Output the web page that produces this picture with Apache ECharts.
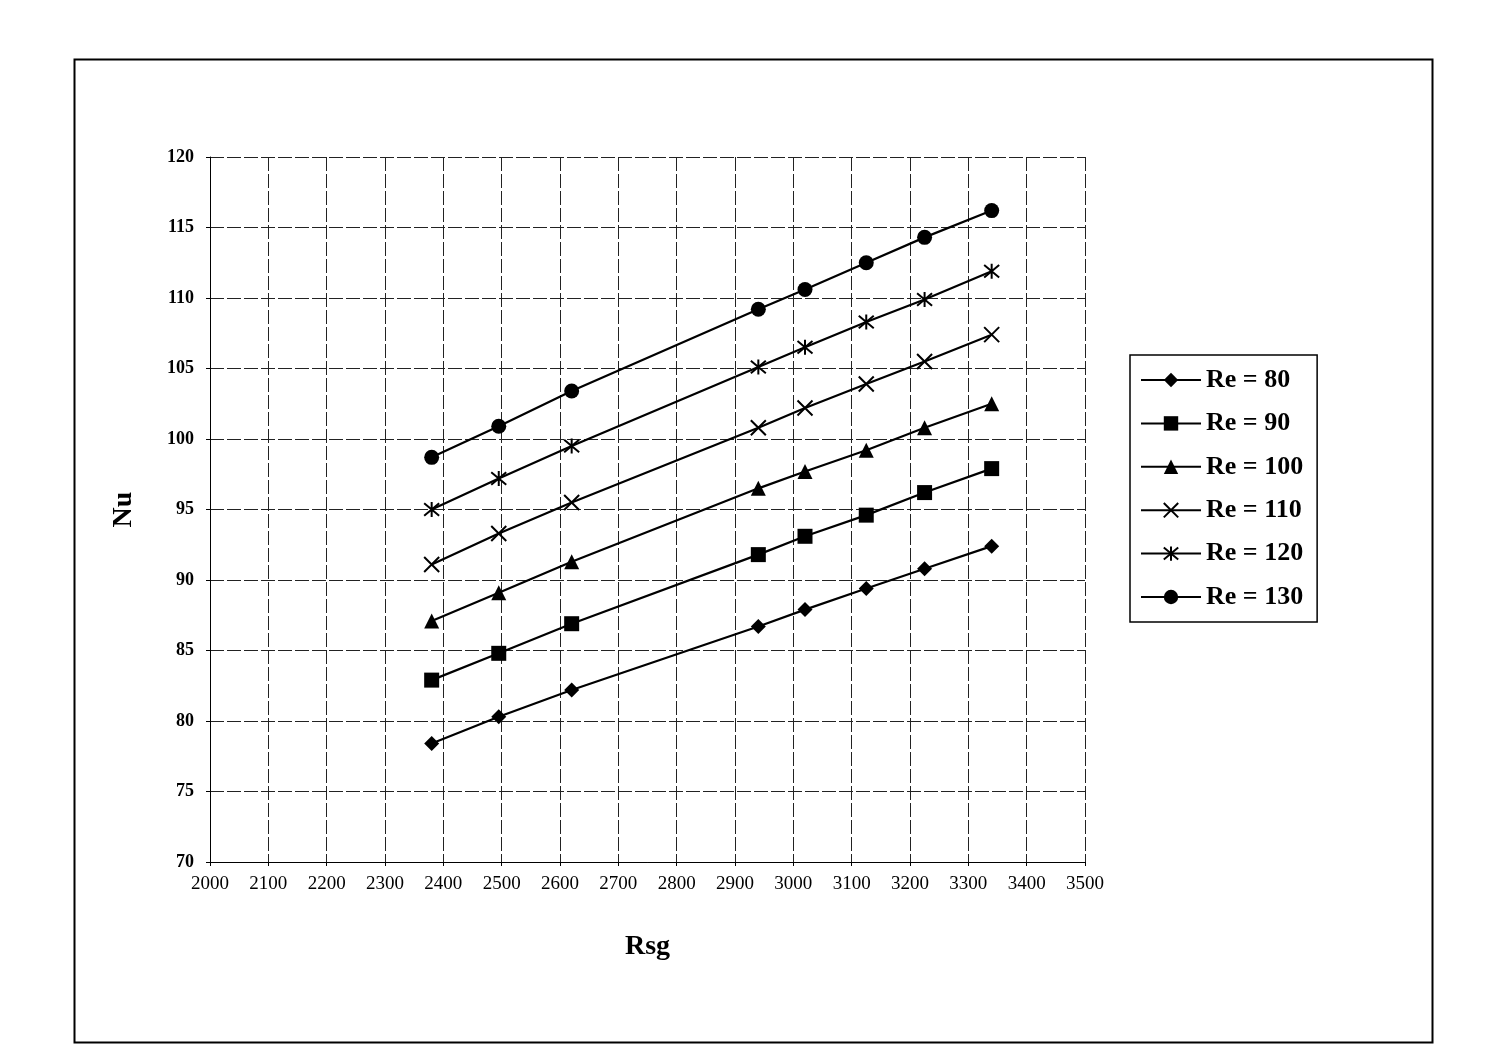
<!DOCTYPE html>
<html>
<head>
<meta charset="utf-8">
<script src="https://cdn.jsdelivr.net/npm/echarts@6/dist/echarts.min.js"></script>
<style>
  html, body { margin: 0; padding: 0; background: #fff; }
  #chart { width: 1493px; height: 1055px; }
</style>
</head>
<body>
<div id="chart"></div>
<script>
// Rsg values (x) shared by all series
const rsg = [2380, 2495, 2620, 2940, 3020, 3125, 3225, 3340];

// Nu values per Reynolds number
const nuRe80  = [78.4, 80.3, 82.2, 86.7, 87.9, 89.4, 90.8, 92.4];
const nuRe90  = [82.9, 84.8, 86.9, 91.8, 93.1, 94.6, 96.2, 97.9];
const nuRe100 = [87.1, 89.1, 91.3, 96.5, 97.7, 99.2, 100.8, 102.5];
const nuRe110 = [91.1, 93.3, 95.5, 100.8, 102.2, 103.9, 105.5, 107.4];
const nuRe120 = [95.0, 97.2, 99.5, 105.1, 106.5, 108.3, 109.9, 111.9];
const nuRe130 = [98.7, 100.9, 103.4, 109.2, 110.6, 112.5, 114.3, 116.2];

const seriesNames = ['Re = 80', 'Re = 90', 'Re = 100', 'Re = 110', 'Re = 120', 'Re = 130'];
const seriesData = [nuRe80, nuRe90, nuRe100, nuRe110, nuRe120, nuRe130];

const serif = 'Liberation Serif, Times New Roman, serif';

// marker shapes like the excel defaults
const markers = [
  { symbol: 'diamond', size: 15, stroke: 0 },
  { symbol: 'rect', size: 15, stroke: 0 },
  { symbol: 'triangle', size: 15, stroke: 0 },
  { symbol: 'path://M0,0L10,10M10,0L0,10', size: 15, stroke: 2 },
  { symbol: 'path://M0,0L10,10M10,0L0,10M5,-1L5,11', size: 15, stroke: 2 },
  { symbol: 'circle', size: 15, stroke: 0 },
];

const series = seriesNames.map((name, i) => ({
  name: name,
  type: 'line',
  data: rsg.map((x, j) => [x, seriesData[i][j]]),
  symbol: markers[i].symbol,
  symbolSize: markers[i].size,
  showAllSymbol: true,
  lineStyle: { color: '#000', width: 2.2 },
  itemStyle: {
    color: '#000',
    borderColor: '#000',
    borderWidth: markers[i].stroke,
  },
  emphasis: { disabled: true },
  animation: false,
}));

const gridLine = {
  show: true,
  lineStyle: { color: '#222', width: 1, type: [14, 3] },
};

const option = {
  backgroundColor: '#fff',
  animation: false,
  graphic: [
    {
      type: 'rect',
      left: 72,
      top: 57,
      shape: { width: 1358, height: 983 },
      style: { fill: 'none', stroke: '#000', lineWidth: 2 },
      silent: true,
    },
  ],
  grid: {
    left: 210,
    top: 157,
    width: 875,
    height: 705,
    containLabel: false,
  },
  legend: {
    orient: 'vertical',
    left: 1130,
    top: 355,
    padding: [12, 14, 12, 10],
    borderColor: '#000',
    borderWidth: 1.5,
    itemWidth: 60,
    itemHeight: 18,
    itemGap: 17.4,
    data: seriesNames,
    textStyle: {
      fontFamily: serif,
      fontSize: 26,
      fontWeight: 'bold',
      color: '#000',
    },
  },
  xAxis: {
    type: 'value',
    min: 2000,
    max: 3500,
    interval: 100,
    name: 'Rsg',
    nameLocation: 'middle',
    nameGap: 71,
    nameTextStyle: { fontFamily: serif, fontSize: 28, fontWeight: 'bold', color: '#000' },
    axisLine: { show: true, lineStyle: { color: '#000', width: 1 } },
    axisTick: { show: true, length: 4, lineStyle: { color: '#000' } },
    axisLabel: {
      fontFamily: serif,
      fontSize: 19,
      color: '#000',
      margin: 13,
      formatter: (v) => String(v),
    },
    splitLine: gridLine,
  },
  yAxis: {
    type: 'value',
    min: 70,
    max: 120,
    interval: 5,
    name: 'Nu',
    nameLocation: 'middle',
    nameRotate: 90,
    nameGap: 72,
    nameTextStyle: { fontFamily: serif, fontSize: 28, fontWeight: 'bold', color: '#000' },
    axisLine: { show: true, lineStyle: { color: '#000', width: 1 } },
    axisTick: { show: true, length: 4, lineStyle: { color: '#000' } },
    axisLabel: { fontFamily: serif, fontSize: 18, fontWeight: 'bold', color: '#000', margin: 16 },
    splitLine: gridLine,
  },
  series: series,
};

const myChart = echarts.init(document.getElementById('chart'), null, { renderer: 'canvas' });
myChart.setOption(option);
</script>
</body>
</html>
